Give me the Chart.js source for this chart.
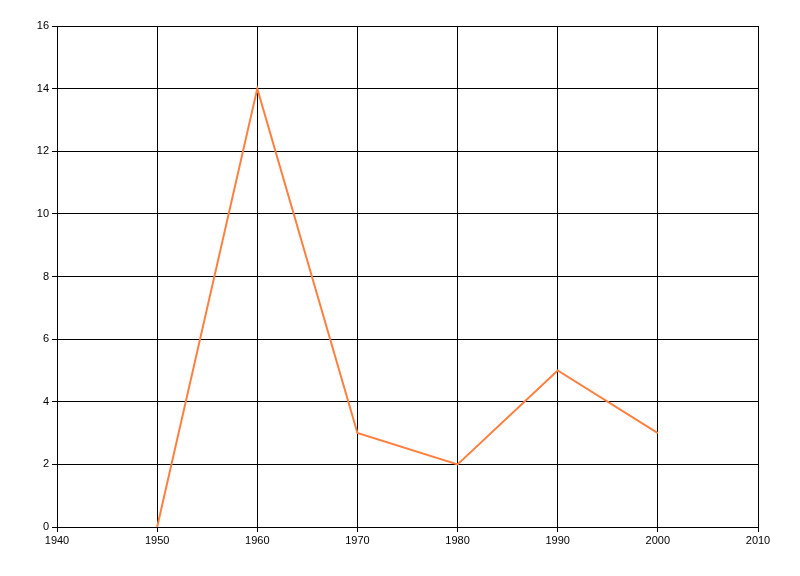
<!DOCTYPE html>
<html>
<head>
<meta charset="utf-8">
<script src="https://cdn.jsdelivr.net/npm/chart.js@4"></script>
<style>
html,body{margin:0;padding:0;background:#fff;}
#wrap{width:800px;height:576px;position:relative;}
</style>
</head>
<body>
<div id="wrap"><canvas id="c" width="800" height="576"></canvas></div>
<script>
const years = [1950, 1960, 1970, 1980, 1990, 2000];
const values = [0, 14, 3, 2, 5, 3];
const xMin = 1940, xMax = 2010, xStep = 10;
const yMin = 0, yMax = 16, yStep = 2;

const points = years.map((y, i) => ({x: y, y: values[i]}));

new Chart(document.getElementById('c'), {
  type: 'line',
  data: {
    datasets: [{
      data: points,
      borderColor: '#FF7F3F',
      borderWidth: 2,
      pointRadius: 0,
      tension: 0,
      fill: false
    }]
  },
  options: {
    responsive: false,
    animation: false,
    devicePixelRatio: 1,
    plugins: { legend: { display: false }, tooltip: { enabled: false } },
    layout: { padding: { top: 26, right: 42, left: 0, bottom: 0 } },
    scales: {
      x: {
        type: 'linear',
        min: xMin, max: xMax,
        ticks: {
          stepSize: xStep,
          color: '#000',
          font: { family: 'Liberation Sans', size: 11 },
          padding: 2,
          maxRotation: 0,
          callback: v => String(v)
        },
        grid: { color: '#000', lineWidth: 1, tickLength: 5, drawTicks: true },
        border: { color: '#000', width: 1 },
        afterFit: s => { s.height = 49; }
      },
      y: {
        min: yMin, max: yMax,
        ticks: {
          stepSize: yStep,
          color: '#000',
          font: { family: 'Liberation Sans', size: 11 },
          padding: 3,
          callback: v => String(v)
        },
        grid: { color: '#000', lineWidth: 1, tickLength: 5, drawTicks: true },
        border: { color: '#000', width: 1 },
        afterFit: s => { s.width = 57; }
      }
    }
  }
});
</script>
</body>
</html>
